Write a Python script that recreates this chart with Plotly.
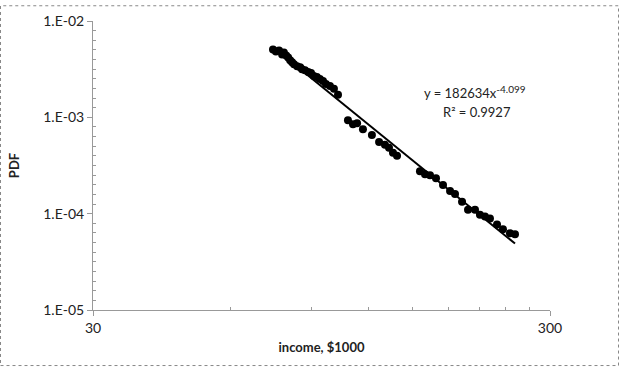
import numpy as np
import plotly.graph_objects as go

# income, $1000
income = [74.3, 75.4, 76.6, 77.8, 78.5, 79.4, 80.2, 81.0, 81.8, 82.6, 83.9, 85.2,
          86.0, 87.3, 88.7, 90.0, 91.3, 92.7, 94.1, 95.6, 97.0, 99.0, 101.0, 103.1,
          108.4, 111.2, 113.5, 116.9, 122.3, 126.8, 130.6, 133.3, 136.0, 138.8,
          155.8, 159.8, 163.9, 168.9, 175.0, 181.3, 185.9, 192.6, 198.5, 205.6,
          210.8, 216.2, 221.7, 229.7, 236.7, 245.2, 251.5]
pdf = [5.06e-3, 4.83e-3, 4.94e-3, 4.50e-3, 4.72e-3, 4.39e-3, 4.19e-3, 3.91e-3,
       3.73e-3, 3.56e-3, 3.39e-3, 3.31e-3, 3.16e-3, 3.09e-3, 2.95e-3, 2.88e-3,
       2.68e-3, 2.62e-3, 2.50e-3, 2.38e-3, 2.22e-3, 2.12e-3, 1.98e-3, 1.72e-3,
       9.32e-4, 8.48e-4, 8.69e-4, 7.54e-4, 6.55e-4, 5.56e-4, 5.18e-4, 4.83e-4,
       4.29e-4, 4.00e-4,
       2.75e-4, 2.56e-4, 2.50e-4, 2.33e-4, 1.98e-4, 1.72e-4, 1.60e-4, 1.33e-4,
       1.10e-4, 1.10e-4, 9.77e-5, 9.32e-5, 8.89e-5, 7.72e-5, 6.87e-5, 6.25e-5,
       6.11e-5]

y_tickvals = [1e-5, 1e-4, 1e-3, 1e-2]
y_ticktext = ["1.E-05", "1.E-04", "1.E-03", "1.E-02"]
x_tickvals = [30, 300]
x_ticktext = ["30", "300"]
x_minor = [60, 90, 120, 150, 180, 210, 240, 270]

eq_line1 = "y = 182634x<sup><span style='font-size:10px'>-4.099</span></sup>"
eq_line2 = "R² = 0.9927"

# power-law trendline fitted in log-log space
lx = np.log10(np.array(income))
ly = np.log10(np.array(pdf))
b, a = np.polyfit(lx, ly, 1)
tx = np.array([min(income), max(income)])
ty = 10 ** (a + b * np.log10(tx))

y_minor = [10 ** (k + i / 10) for k in range(-5, -2) for i in range(1, 10)]

FONT = "Lato, 'Open Sans', Arial, sans-serif"

fig = go.Figure()
fig.add_trace(go.Scatter(x=income, y=pdf, mode="markers",
                         marker=dict(color="black", size=8), showlegend=False))
fig.add_trace(go.Scatter(x=tx, y=ty, mode="lines",
                         line=dict(color="black", width=2), showlegend=False))

W, H = 619, 367
L, R, T, B = 93, 69, 16, 57
pw, ph = W - L - R, H - T - B

fig.update_layout(
    width=W, height=H,
    margin=dict(l=L, r=R, t=T, b=B),
    paper_bgcolor="white", plot_bgcolor="white",
    font=dict(family=FONT, size=14, color="#222"),
    xaxis=dict(type="log", range=[np.log10(30), np.log10(300)],
               tickvals=x_tickvals, ticktext=x_ticktext,
               ticks="outside", ticklen=5, tickcolor="#999",
               showline=True, linecolor="#999", linewidth=1,
               showgrid=False, zeroline=False,
               minor=dict(tickvals=x_minor, ticks="inside", ticklen=3,
                          tickcolor="#999", showgrid=False),
               title=dict(text="<b>income, $1000</b>", font=dict(size=13),
                          standoff=8)),
    yaxis=dict(type="log", range=[-5, -2],
               tickvals=y_tickvals, ticktext=y_ticktext,
               ticks="outside", ticklen=5, tickcolor="#999",
               showline=True, linecolor="#999", linewidth=1,
               showgrid=False, zeroline=False,
               minor=dict(tickvals=y_minor, ticks="inside", ticklen=3,
                          tickcolor="#999", showgrid=False),
               title=dict(text="<b>PDF</b>", font=dict(size=13), standoff=20)),
    annotations=[
        dict(text=eq_line1, xref="paper", yref="paper",
             x=(475 - L) / pw, y=(H - B - 98) / ph,
             xanchor="center", yanchor="bottom", borderpad=0,
             showarrow=False, font=dict(size=13, color="#222")),
        dict(text=eq_line2, xref="paper", yref="paper",
             x=(477 - L) / pw, y=(H - B - 99) / ph,
             xanchor="center", yanchor="top", borderpad=0,
             showarrow=False, font=dict(size=13, color="#222")),
    ],
    shapes=[dict(type="rect", xref="paper", yref="paper",
                 x0=(-L + 0.5) / pw, x1=1 + (R - 0.5) / pw,
                 y0=(-B + 0.5) / ph, y1=1 + (T - 0.5) / ph,
                 line=dict(color="#888", width=1, dash="dot"))],
)

fig.write_html("out.html")
